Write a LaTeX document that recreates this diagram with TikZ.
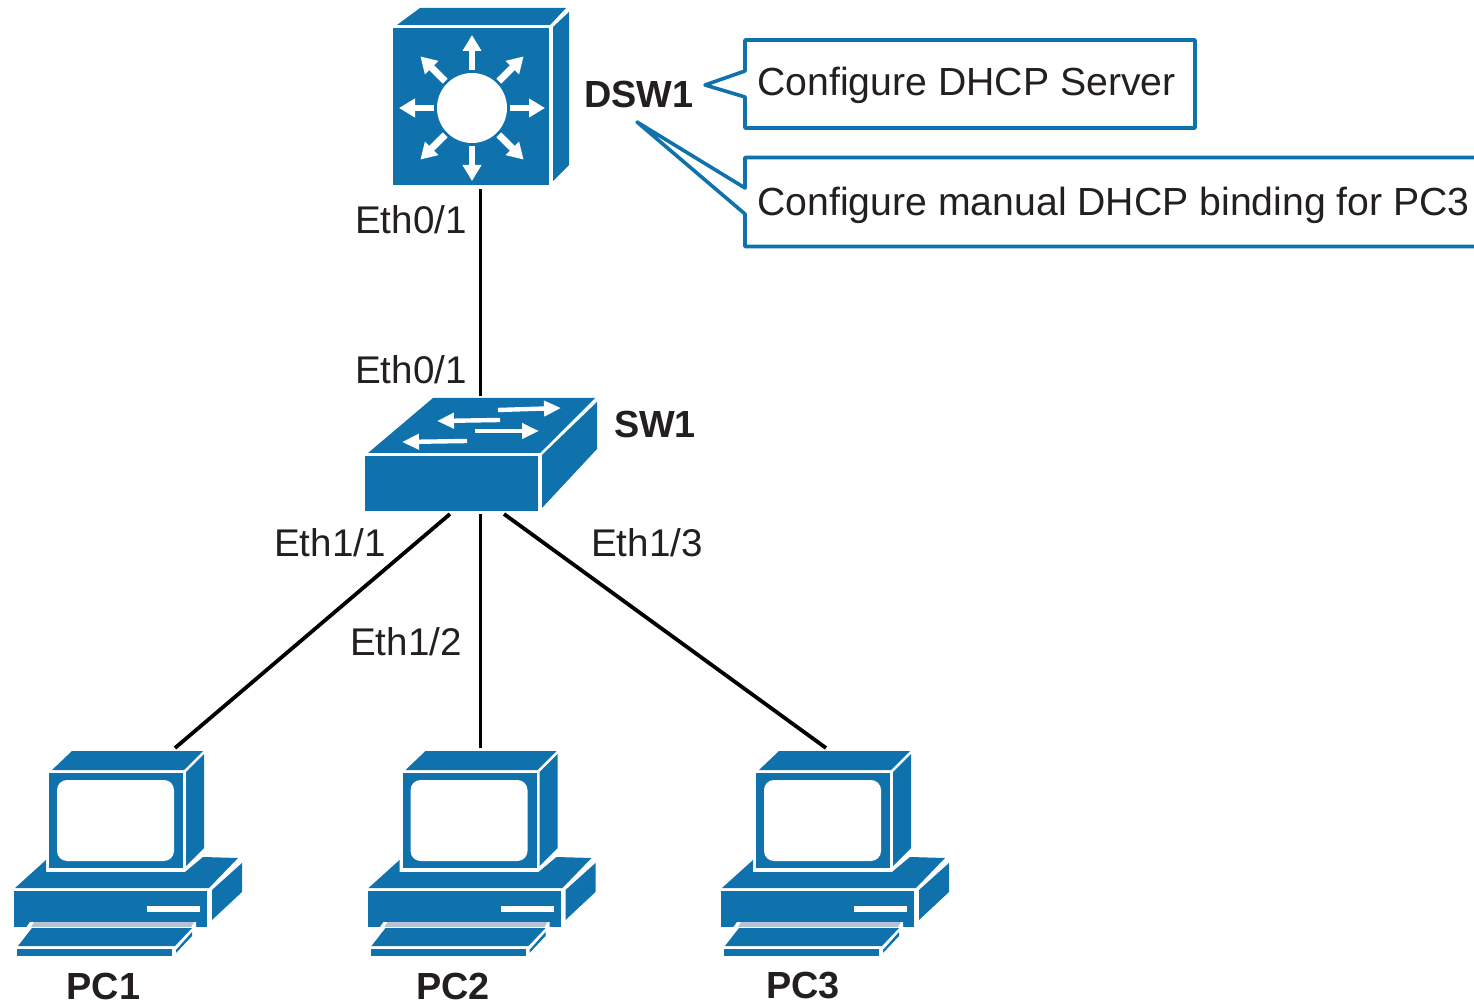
\documentclass[tikz,border=0pt]{standalone}
\usepackage{fontspec}
\setmainfont{Liberation Sans}
\usetikzlibrary{arrows.meta}
\definecolor{iconblue}{HTML}{0F72AD}
\definecolor{labelink}{HTML}{231F20}
\definecolor{stripgrey}{HTML}{B4C4D6}
\tikzset{iconbox/.style={shape=rectangle,inner sep=0pt,outer sep=0pt}}
\tikzset{devlabel/.style={anchor=center,inner sep=0pt,text=labelink,font=\fontsize{18.9}{22}\selectfont\bfseries}}
\tikzset{portlabel/.style={anchor=center,inner sep=0pt,text=labelink,font=\fontsize{19.3}{23}\selectfont}}
\tikzset{notetext/.style={anchor=west,inner sep=0pt,text=labelink,font=\fontsize{19.6}{24}\selectfont}}
\tikzset{notebox/.style={draw=iconblue,line width=1.8pt,line join=round}}
\tikzset{link/.style={line width=1.9pt,black}}
\tikzset{whitearrow/.style={white,line width=3.4pt,-{Triangle[length=8pt,width=9pt]}}}
\tikzset{thinarrow/.style={white,line width=2.2pt,-{Triangle[length=8.5pt,width=7.5pt]}}}
\tikzset{
	pics/pcicon/.style={code={
		\node[iconbox,minimum width=114.5pt,minimum height=104.5pt] (-box) at (128.5,852.5) {};
		% monitor
		\fill[iconblue] (52,770) -- (72,751) -- (203,751) -- (184,770) -- cycle;
		\fill[iconblue] (186,772) -- (204,754) -- (204,848) -- (186,866) -- cycle;
		\fill[iconblue] (49,773) rectangle (183,868);
		\fill[white,rounded corners=5pt] (57,780) rectangle (174,861);
		% base
		\fill[iconblue] (15,888) -- (46,860) -- (46,872) -- (185,872) -- (203,857) -- (238,858) -- (209,888) -- cycle;
		\fill[iconblue] (14,891) rectangle (207,927);
		\fill[iconblue] (212,890) -- (242,863) -- (242,892) -- (212,920) -- cycle;
		\fill[white] (147,906) rectangle (200,912);
		% keyboard
		\fill[white] (30,922) -- (196,922) -- (196,928) -- (174,958) -- (14,958) -- (14,945) -- cycle;
		\fill[stripgrey] (34,922) -- (194,922) -- (191,927) -- (31,927) -- cycle;
		\fill[iconblue] (32,928) -- (192,928) -- (175,946) -- (18,946) -- cycle;
		\fill[iconblue] (17,949) rectangle (172,956);
		\fill[iconblue] (176,950) -- (192,932) -- (192,936) -- (176,953) -- cycle;
	}}
}

\begin{document}
\begin{tikzpicture}[x=.5pt,y=-.5pt]
	\clip (0,0) rectangle (1474,1005);
	%
	\node[iconbox,minimum width=88.5pt,minimum height=91pt] (DSW1) at (480.5,98) {};
	\fill[iconblue] (397,25) -- (420,8) -- (566,8) -- (550,25) -- cycle;
	\fill[iconblue] (553,27) -- (569,12) -- (569,165) -- (553,181) -- cycle;
	\fill[iconblue] (393,28) rectangle (549,185);
	\fill[white] (472,108) circle (35);
	\foreach \ang in {0,45,...,315}
		\draw[whitearrow] (472,108) ++(\ang:38) -- ++(\ang:35);
	%
	\node[iconbox,minimum width=116.5pt,minimum height=59pt] (SW1) at (480.5,455) {};
	\fill[iconblue] (433,398) -- (595,398) -- (540,453) -- (368,453) -- cycle;
	\fill[iconblue] (365,456) rectangle (538,511);
	\fill[iconblue] (542,455) -- (597,402) -- (597,449) -- (542,508) -- cycle;
	\draw[thinarrow] (498,410) -- (561,408);
	\draw[thinarrow] (500,420) -- (437,421);
	\draw[thinarrow] (475,431) -- (539,431);
	\draw[thinarrow] (467,441) -- (402,442);
	%
	\pic (PC1) at (0,0) {pcicon};
	\pic (PC2) at (353.5,0) {pcicon};
	\pic (PC3) at (707,0) {pcicon};
	%
	\coordinate (SW1left) at (450,514);
	\coordinate (SW1right) at (504,514);
	\coordinate (PC1top) at (175,748);
	\coordinate (PC2top) at (480.5,748);
	\coordinate (PC3top) at (826,748);
	%
	\path[link]
	(DSW1.south) edge (SW1.north)
	(SW1left) edge (PC1top)
	(SW1.south) edge (PC2top)
	(SW1right) edge (PC3top);
	%
	\draw[notebox] (745,40) -- (1195,40) -- (1195,128) -- (745,128) -- (745,97) -- (705,85) -- (745,71) -- cycle;
	\draw[notebox] (1490,157.5) -- (745,157.5) -- (745,188) -- (637,122) -- (745,214) -- (745,246.5) -- (1490,246.5);
	%
	\node[devlabel] (DSW1label) at (639,94) {DSW1};
	\node[devlabel] (SW1label) at (655,424) {SW1};
	\node[devlabel] (PC1label) at (103.5,986) {PC1};
	\node[devlabel] (PC2label) at (453,986) {PC2};
	\node[devlabel] (PC3label) at (803,986) {PC3};
	\node[portlabel] (dswport) at (411,220) {Eth0/1};
	\node[portlabel] (swport) at (411,370) {Eth0/1};
	\node[portlabel] (swportA) at (330,543) {Eth1/1};
	\node[portlabel] (swportB) at (406,642) {Eth1/2};
	\node[portlabel] (swportC) at (647,543) {Eth1/3};
	\node[notetext] (noteA) at (757,85) {Configure DHCP Server};
	\node[notetext] (noteB) at (757,205) {Configure manual DHCP binding for PC3};
\end{tikzpicture}
\end{document}
